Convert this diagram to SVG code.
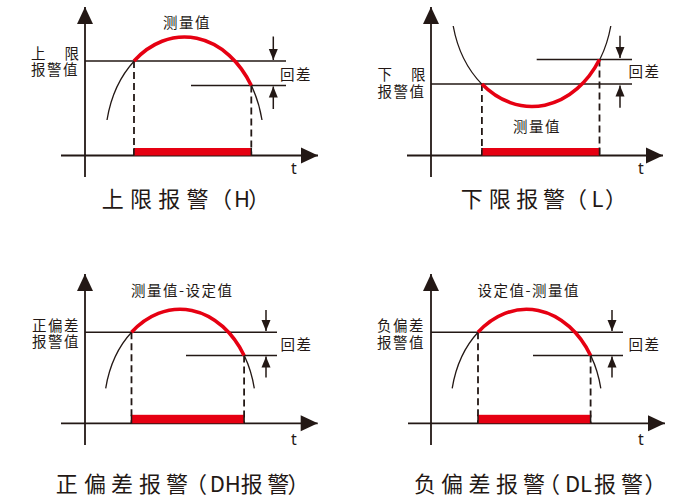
<svg xmlns="http://www.w3.org/2000/svg" width="690" height="498" viewBox="0 0 690 498">
<style>
.ax{stroke:#231815;stroke-width:1.8;fill:none}
.ln{stroke:#231815;stroke-width:1.5;fill:none}
.cv{stroke:#231815;stroke-width:1.3;fill:none}
.rd{stroke:#e60012;stroke-width:3.6;fill:none}
.ds{stroke:#231815;stroke-width:1.8;stroke-dasharray:7 4;fill:none}
.bar{fill:#e60012}
.ed{stroke:#231815;stroke-width:1.5}
.sa{stroke:#231815;stroke-width:1.5;fill:none}
.lb{font-family:"Noto Sans CJK SC","Noto Sans",sans-serif;font-size:14.5px;letter-spacing:1.5px;fill:#231815}
.tt{font-family:"Noto Sans CJK SC","Noto Sans",sans-serif;font-size:22px;fill:#231815}
.t{font-family:"Noto Sans","DejaVu Sans",sans-serif;font-size:16px;fill:#231815}
</style>
<defs>
<marker id="axh" markerUnits="userSpaceOnUse" markerWidth="17" markerHeight="16" refX="17" refY="8" orient="auto" overflow="visible"><path d="M0,0 L17,8 L0,16 z" fill="#231815"/></marker>
<marker id="sah" markerUnits="userSpaceOnUse" markerWidth="11" markerHeight="9" refX="11" refY="4.5" orient="auto" overflow="visible"><path d="M0,0 L11,4.5 L0,9 z" fill="#231815"/></marker>
</defs>

<g id="panel-h">
<g id="h-axes">
<line class="ax" x1="85" y1="177" x2="85" y2="7" marker-end="url(#axh)"/>
<line class="ax" x1="61" y1="155.5" x2="318" y2="155.5" marker-end="url(#axh)"/>
</g>
<g id="h-lines">
<line class="ln" x1="85" y1="61" x2="286" y2="61"/>
<line class="ln" x1="191" y1="85.5" x2="286" y2="85.5"/>
<line class="ds" x1="134" y1="61" x2="134" y2="155"/>
<line class="ds" x1="251.3" y1="85.5" x2="251.3" y2="155"/>
<line class="sa" x1="273.3" y1="36.5" x2="273.3" y2="60" marker-end="url(#sah)"/>
<line class="sa" x1="273.3" y1="109" x2="273.3" y2="86.5" marker-end="url(#sah)"/>
</g>
<path class="cv" d="M107,120 A79.3,105 0 0 1 262,120"/>
<path class="rd" d="M134,61 A79.3,105 0 0 1 251.3,85.5"/>
<rect class="bar" x="134" y="148" width="117.3" height="7.5"/>
<line class="ed" x1="134" y1="148" x2="134" y2="155.5"/>
<line class="ed" x1="251.3" y1="148" x2="251.3" y2="155.5"/>
<text class="lb" x="31 64.5" y="59">上限</text>
<text class="lb" x="31" y="75">报警值</text>
<text class="lb" x="187" y="28" text-anchor="middle">测量值</text>
<text class="lb" x="280" y="80">回差</text>
<text class="t" x="291" y="174">t</text>
<text class="tt" x="101.7 130 158.3 186.6 210 234 248" y="207">上限报警（H）</text>
</g>

<g id="panel-l">
<g id="l-axes">
<line class="ax" x1="431" y1="177" x2="431" y2="7" marker-end="url(#axh)"/>
<line class="ax" x1="407" y1="155.5" x2="663" y2="155.5" marker-end="url(#axh)"/>
</g>
<g id="l-lines">
<line class="ln" x1="431" y1="84" x2="632" y2="84"/>
<line class="ln" x1="536.7" y1="59.5" x2="632" y2="59.5"/>
<line class="ds" x1="481.9" y1="84" x2="481.9" y2="155"/>
<line class="ds" x1="599.5" y1="59.5" x2="599.5" y2="155"/>
<line class="sa" x1="620" y1="35.7" x2="620" y2="58" marker-end="url(#sah)"/>
<line class="sa" x1="620" y1="107.7" x2="620" y2="85.5" marker-end="url(#sah)"/>
</g>
<path class="cv" d="M453.2,26 A81,105 0 0 0 610.8,26"/>
<path class="rd" d="M481.9,84 A81,105 0 0 0 599.5,59.5"/>
<rect class="bar" x="481.9" y="148" width="117.6" height="7.5"/>
<line class="ed" x1="481.9" y1="148" x2="481.9" y2="155.5"/>
<line class="ed" x1="599.5" y1="148" x2="599.5" y2="155.5"/>
<text class="lb" x="377.5 411" y="80">下限</text>
<text class="lb" x="377.5" y="97">报警值</text>
<text class="lb" x="537" y="131.5" text-anchor="middle">测量值</text>
<text class="lb" x="628.5" y="77">回差</text>
<text class="t" x="638" y="173.5">t</text>
<text class="tt" x="460.7 488.7 516.2 543 565 591.5 605" y="207">下限报警（L）</text>
</g>

<g id="panel-dh">
<g id="dh-axes">
<line class="ax" x1="85" y1="445" x2="85" y2="274" marker-end="url(#axh)"/>
<line class="ax" x1="61" y1="423.3" x2="317.7" y2="423.3" marker-end="url(#axh)"/>
</g>
<g id="dh-lines">
<line class="ln" x1="85" y1="332.3" x2="277" y2="332.3"/>
<line class="ln" x1="186" y1="355.5" x2="277" y2="355.5"/>
<line class="ds" x1="131.5" y1="332.3" x2="131.5" y2="423"/>
<line class="ds" x1="244.1" y1="355.5" x2="244.1" y2="423"/>
<line class="sa" x1="266" y1="310" x2="266" y2="331" marker-end="url(#sah)"/>
<line class="sa" x1="266" y1="377.5" x2="266" y2="356.5" marker-end="url(#sah)"/>
</g>
<path class="cv" d="M105.7,388.3 A76,100 0 0 1 254.3,388.3"/>
<path class="rd" d="M131.5,332.3 A76,100 0 0 1 244.1,355.5"/>
<rect class="bar" x="131.5" y="414.8" width="112.6" height="8.5"/>
<line class="ed" x1="131.5" y1="414.8" x2="131.5" y2="423.3"/>
<line class="ed" x1="244.1" y1="414.8" x2="244.1" y2="423.3"/>
<text class="lb" x="32" y="331">正偏差</text>
<text class="lb" x="32" y="347">报警值</text>
<text class="lb" x="131" y="296">测量值-设定值</text>
<text class="lb" x="280.5" y="349.5">回差</text>
<text class="t" x="291" y="445">t</text>
<text class="tt" x="55.7 84 111 139 166 185 209.7 224.7 240.7 267.3 287.5" y="491.5">正偏差报警（DH报警）</text>
</g>

<g id="panel-dl">
<g id="dl-axes">
<line class="ax" x1="431" y1="445" x2="431" y2="274" marker-end="url(#axh)"/>
<line class="ax" x1="408" y1="423.3" x2="665" y2="423.3" marker-end="url(#axh)"/>
</g>
<g id="dl-lines">
<line class="ln" x1="431" y1="332.3" x2="623" y2="332.3"/>
<line class="ln" x1="533" y1="355.5" x2="623" y2="355.5"/>
<line class="ds" x1="478" y1="332.3" x2="478" y2="423"/>
<line class="ds" x1="590.6" y1="355.5" x2="590.6" y2="423"/>
<line class="sa" x1="612" y1="310" x2="612" y2="331" marker-end="url(#sah)"/>
<line class="sa" x1="612" y1="377.5" x2="612" y2="356.5" marker-end="url(#sah)"/>
</g>
<path class="cv" d="M452.2,388.3 A76,100 0 0 1 600.8,388.3"/>
<path class="rd" d="M478,332.3 A76,100 0 0 1 590.6,355.5"/>
<rect class="bar" x="478" y="414.8" width="112.6" height="8.5"/>
<line class="ed" x1="478" y1="414.8" x2="478" y2="423.3"/>
<line class="ed" x1="590.6" y1="414.8" x2="590.6" y2="423.3"/>
<text class="lb" x="377" y="331">负偏差</text>
<text class="lb" x="377" y="347.5">报警值</text>
<text class="lb" x="477.5" y="296">设定值-测量值</text>
<text class="lb" x="628.5" y="350">回差</text>
<text class="t" x="638" y="445">t</text>
<text class="tt" x="414 441 468.5 496 523 538 565 580 594 621 644.5" y="492">负偏差报警（DL报警）</text>
</g>
</svg>
